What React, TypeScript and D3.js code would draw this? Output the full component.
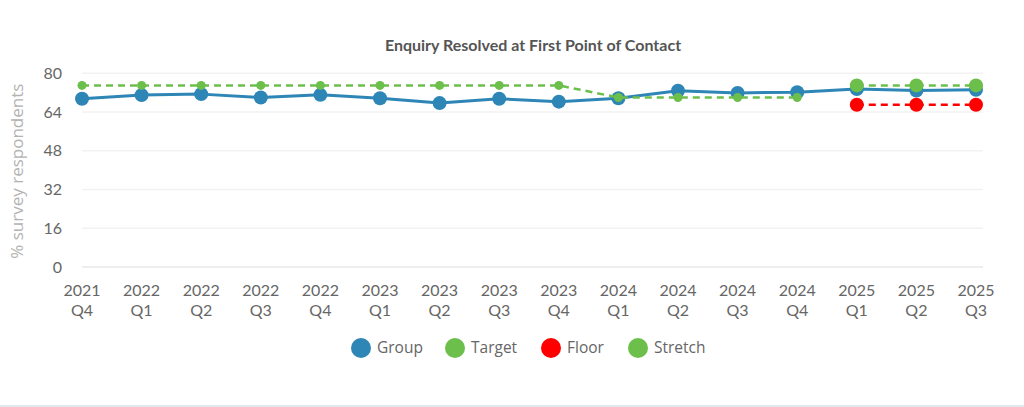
import { useEffect, useRef } from "react"
import * as d3 from "d3"

const quarters = [
  "2021 Q4", "2022 Q1", "2022 Q2", "2022 Q3", "2022 Q4", "2023 Q1", "2023 Q2", "2023 Q3",
  "2023 Q4", "2024 Q1", "2024 Q2", "2024 Q3", "2024 Q4", "2025 Q1", "2025 Q2", "2025 Q3",
]
const groupValues = [69.5, 71.0, 71.4, 70.0, 71.1, 69.7, 67.7, 69.5, 68.3, 69.7, 72.8, 71.9, 72.2, 73.5, 72.9, 73.2]
const targetValues = [75, 75, 75, 75, 75, 75, 75, 75, 75, 70, 70, 70, 70, null, null, null]
const floorValues = [null, null, null, null, null, null, null, null, null, null, null, null, null, 67, 67, 67]
const stretchValues = [null, null, null, null, null, null, null, null, null, null, null, null, null, 75, 75, 75]
const yTicks = [0, 16, 32, 48, 64, 80]

interface Series {
  name: string
  values: (number | null)[]
  color: string
  dash: string | null
  width: number
  radius: number
}

const BLUE = "#2e86b6"
const GREEN = "#6cbf4b"
const RED = "#ff0000"

const series: Series[] = [
  { name: "Group", values: groupValues, color: BLUE, dash: null, width: 3, radius: 7 },
  { name: "Target", values: targetValues, color: GREEN, dash: "7,5", width: 2.5, radius: 4.5 },
  { name: "Floor", values: floorValues, color: RED, dash: "7,5", width: 2.5, radius: 7 },
  { name: "Stretch", values: stretchValues, color: GREEN, dash: "7,5", width: 2.5, radius: 7 },
]

export default function App() {
  const svgRef = useRef<SVGSVGElement>(null)

  useEffect(() => {
    document.body.style.margin = "0"
    if (!svgRef.current) return
    const svg = d3.select(svgRef.current)
    svg.selectAll("*").remove()

    const width = 1024
    const height = 407
    const left = 82
    const right = 983
    const top = 73.3
    const bottom = 267

    svg.attr("width", width).attr("height", height)

    svg.append("rect").attr("width", width).attr("height", height).attr("fill", "#ffffff")
    // bottom border strip
    svg.append("rect").attr("x", 0).attr("y", 405).attr("width", width).attr("height", 2).attr("fill", "#e3e8ef")

    const x = d3.scalePoint<string>().domain(quarters).range([82, 976])
    const y = d3.scaleLinear().domain([0, 80]).range([bottom, top])

    // title
    svg.append("text")
      .attr("x", 533)
      .attr("y", 51)
      .attr("text-anchor", "middle")
      .style("font-family", "Lato, sans-serif")
      .style("font-weight", "bold")
      .style("font-size", "16px")
      .style("fill", "#555555")
      .text("Enquiry Resolved at First Point of Contact")

    // grid
    svg.append("g")
      .selectAll("line")
      .data(yTicks)
      .enter()
      .append("line")
      .attr("x1", left)
      .attr("x2", right)
      .attr("y1", (d) => y(d))
      .attr("y2", (d) => y(d))
      .attr("stroke", (d) => (d === 0 ? "#e8e8e8" : "#f2f2f2"))
      .attr("stroke-width", 1.5)

    // y tick labels
    svg.append("g")
      .selectAll("text")
      .data(yTicks)
      .enter()
      .append("text")
      .attr("x", 62)
      .attr("y", (d) => y(d))
      .attr("dy", "0.35em")
      .attr("text-anchor", "end")
      .style("font-family", "Lato, sans-serif")
      .style("font-size", "16px")
      .style("fill", "#666666")
      .text((d) => String(d))

    // y axis title
    svg.append("text")
      .attr("transform", `translate(23, ${(top + bottom) / 2 + 1}) rotate(-90)`)
      .attr("text-anchor", "middle")
      .style("font-family", "'Open Sans', sans-serif")
      .style("font-size", "17px")
      .style("fill", "#b3b3b3")
      .text("% survey respondents")

    // x labels
    const xl = svg.append("g")
      .selectAll("text")
      .data(quarters)
      .enter()
      .append("text")
      .attr("text-anchor", "middle")
      .style("font-family", "Lato, sans-serif")
      .style("font-size", "16px")
      .style("fill", "#666666")
    xl.append("tspan")
      .attr("x", (d) => x(d)!)
      .attr("y", 296)
      .text((d) => d.split(" ")[0])
    xl.append("tspan")
      .attr("x", (d) => x(d)!)
      .attr("y", 316)
      .text((d) => d.split(" ")[1])

    // series
    series.forEach((s) => {
      const pts = quarters.map((q, i) => ({ q, v: s.values[i] }))
      const line = d3
        .line<{ q: string; v: number | null }>()
        .defined((d) => d.v !== null)
        .x((d) => x(d.q)!)
        .y((d) => y(d.v as number))
      const g = svg.append("g")
      g.append("path")
        .attr("d", line(pts))
        .attr("fill", "none")
        .attr("stroke", s.color)
        .attr("stroke-width", s.width)
        .attr("stroke-dasharray", s.dash)
        .attr("stroke-linejoin", "round")
      g.selectAll("circle")
        .data(pts.filter((d) => d.v !== null))
        .enter()
        .append("circle")
        .attr("cx", (d) => x(d.q)!)
        .attr("cy", (d) => y(d.v as number))
        .attr("r", s.radius)
        .attr("fill", s.color)
    })

    // legend
    const legendX = [361, 455, 551, 638]
    const legend = svg.append("g")
    const items = legend
      .selectAll("g")
      .data(series)
      .enter()
      .append("g")
      .attr("transform", (d, i) => `translate(${legendX[i]}, 348)`)
    items.append("circle").attr("r", 10).attr("fill", (d) => d.color)
    items.append("text")
      .attr("x", 16)
      .attr("dy", "0.35em")
      .style("font-family", "'Open Sans', sans-serif")
      .style("font-size", "15.5px")
      .style("fill", "#666666")
      .text((d) => d.name)
  }, [])

  return <svg ref={svgRef} style={{ display: "block" }}></svg>
}
